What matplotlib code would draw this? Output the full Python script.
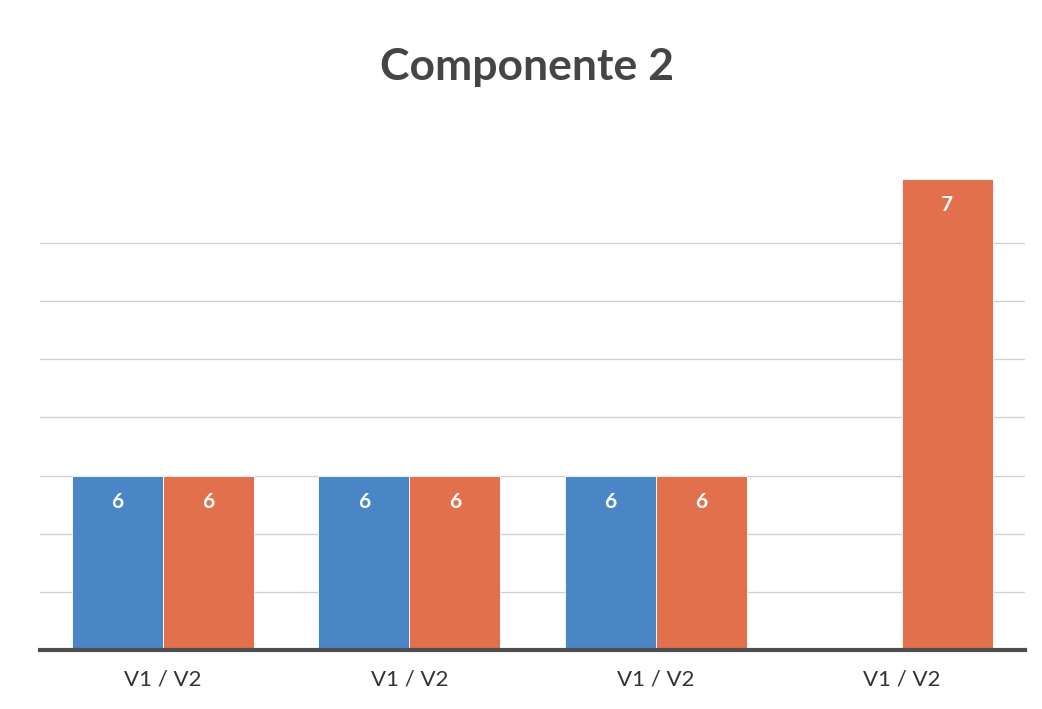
import numpy as np
import matplotlib
matplotlib.use('Agg')
import matplotlib.pyplot as plt

# Valeurs (hauteur des barres et étiquettes affichées)
categories = ["V1 / V2", "V1 / V2", "V1 / V2", "V1 / V2"]
v1_heights = [3.0, 3.0, 3.0, None]
v2_heights = [3.0, 3.0, 3.0, 8.1]
v1_labels = ["6", "6", "6", ""]
v2_labels = ["6", "6", "6", "7"]

blue = "#4A86C6"
orange = "#E2704C"

fig = plt.figure(figsize=(10.42, 7.09), dpi=100)
ax = fig.add_axes([40 / 1042, 59 / 709, 985 / 1042, 500 / 709])

x = np.arange(len(categories))
width = 0.37

for i in range(len(categories)):
    if v1_heights[i] is not None:
        ax.bar(x[i] - width / 2, v1_heights[i], width, color=blue, edgecolor="white", linewidth=0.6)
        ax.text(x[i] - width / 2, v1_heights[i] - 0.45, v1_labels[i], color="white",
                ha="center", va="center", fontsize=15, fontweight="bold", family="Lato")
    if v2_heights[i] is not None:
        ax.bar(x[i] + width / 2, v2_heights[i], width, color=orange, edgecolor="white", linewidth=0.6)
        ax.text(x[i] + width / 2, v2_heights[i] - 0.45, v2_labels[i], color="white",
                ha="center", va="center", fontsize=15, fontweight="bold", family="Lato")

ax.set_xlim(-0.5, 3.5)
ax.set_ylim(0, 8.6)
ax.set_xticks(x)
ax.set_xticklabels(categories, fontsize=16, family="Lato", color="#333333")
ax.set_yticks(range(1, 8))
ax.set_yticklabels([])
ax.tick_params(axis="both", length=0, pad=14)
ax.grid(axis="y", color="#cfcfcf", linewidth=0.9)
ax.set_axisbelow(True)

for s in ["top", "right", "left"]:
    ax.spines[s].set_visible(False)
ax.spines["bottom"].set_color("#4d4d4d")
ax.spines["bottom"].set_linewidth(3)
ax.spines["bottom"].set_zorder(5)

fig.text(0.506, 0.905, "Componente 2", ha="center", va="center",
         fontsize=32, fontweight="bold", family="Lato", color="#454545")

plt.savefig("out.png", dpi=100)
plt.close()
